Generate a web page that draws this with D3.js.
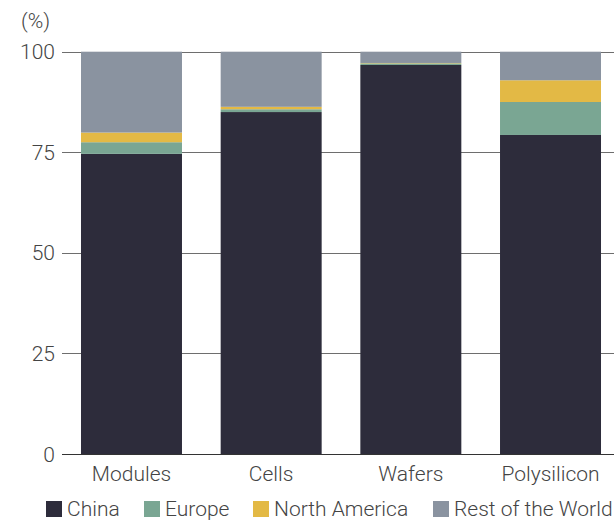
<!DOCTYPE html>
<html>
<head>
<meta charset="utf-8">
<script src="https://cdn.jsdelivr.net/npm/d3@7/dist/d3.min.js"></script>
<style>
  html, body { margin: 0; padding: 0; background: #fff; }
  svg { display: block; font-family: Roboto, "Noto Sans", sans-serif; font-weight: 300; }
</style>
</head>
<body>
<svg id="chart" width="614" height="520"></svg>
<script>
// Share of global solar manufacturing capacity by region (%)
const stages = ["Modules", "Cells", "Wafers", "Polysilicon"];
const regions = ["China", "Europe", "North America", "Rest of the World"];
const china = [74.6, 85.0, 96.7, 79.3];
const europe = [2.9, 0.7, 0.4, 8.2];
const northAmerica = [2.4, 0.6, 0.1, 5.4];
const restOfWorld = [20.1, 13.7, 2.8, 7.1];
const yTicks = [0, 25, 50, 75, 100];
const colors = ["#2d2c3b", "#7aa693", "#e3b945", "#8a93a0"];

const rows = stages.map((s, i) => ({
  stage: s,
  "China": china[i],
  "Europe": europe[i],
  "North America": northAmerica[i],
  "Rest of the World": restOfWorld[i]
}));

const svg = d3.select("#chart");
const x0 = 62;
const fontSize = 21;

const x = d3.scaleBand().domain(stages).range([x0, 620])
  .paddingInner(0.277).paddingOuter(0.136);
const y = d3.scaleLinear().domain([0, 100]).range([454, 51.7]);
const color = d3.scaleOrdinal().domain(regions).range(colors);

// gridlines with short ticks on the left
const grid = svg.append("g");
grid.selectAll("line").data(yTicks).join("line")
  .attr("x1", x0).attr("x2", 614)
  .attr("y1", d => Math.round(y(d)) + 0.5).attr("y2", d => Math.round(y(d)) + 0.5)
  .attr("stroke", d => d === 0 ? "#333" : "#6e6e6e")
  .attr("stroke-width", 1);

grid.selectAll("text").data(yTicks).join("text")
  .attr("x", 55).attr("y", d => y(d))
  .attr("dy", "0.36em")
  .attr("text-anchor", "end")
  .attr("font-size", fontSize)
  .attr("fill", "#444")
  .text(d => d);

svg.append("text")
  .attr("x", 21).attr("y", 28)
  .attr("font-size", fontSize).attr("fill", "#444")
  .text("(%)");

// stacked bars
const stacked = d3.stack().keys(regions)(rows);
svg.append("g").selectAll("g").data(stacked).join("g")
  .attr("fill", d => color(d.key))
  .selectAll("rect").data(d => d).join("rect")
  .attr("x", d => x(d.data.stage))
  .attr("width", x.bandwidth())
  .attr("y", d => y(d[1]))
  .attr("height", d => y(d[0]) - y(d[1]));

// category labels
svg.append("g").selectAll("text").data(stages).join("text")
  .attr("x", d => x(d) + x.bandwidth() / 2)
  .attr("y", 481)
  .attr("text-anchor", "middle")
  .attr("font-size", fontSize)
  .attr("fill", "#444")
  .text(d => d);

// legend
const legendX = [46, 144, 253, 433];
const legend = svg.append("g").selectAll("g").data(regions).join("g")
  .attr("transform", (d, i) => `translate(${legendX[i]},0)`);
legend.append("rect")
  .attr("x", 0).attr("y", 501).attr("width", 16).attr("height", 16)
  .attr("fill", d => color(d));
legend.append("text")
  .attr("x", 21).attr("y", 516)
  .attr("font-size", fontSize)
  .attr("fill", "#444")
  .text(d => d);
</script>
</body>
</html>
